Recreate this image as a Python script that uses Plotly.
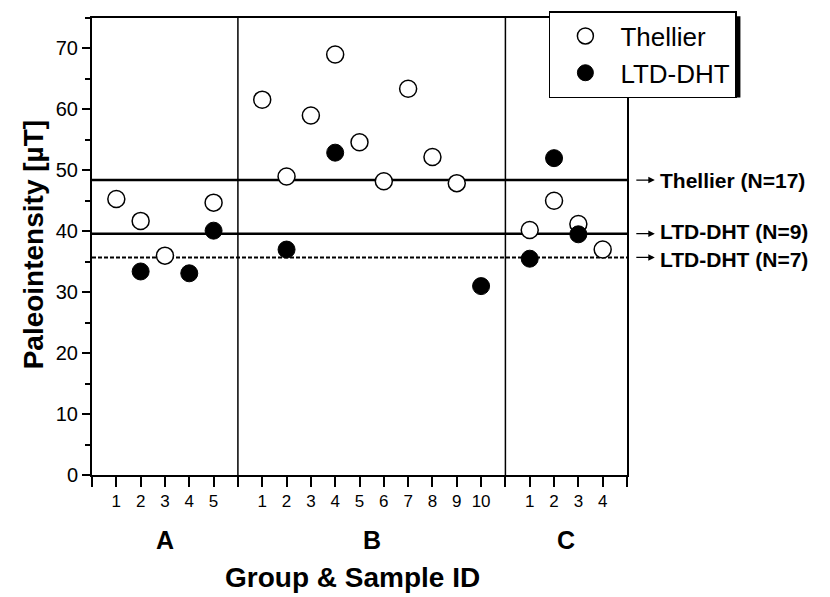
import plotly.graph_objects as go

# Paleointensity estimates per group (sample IDs and values in µT)
groups = ["A", "B", "C"]
group_sizes = [5, 10, 4]

thellier_A_ids = [1, 2, 3, 5]
thellier_A = [45.3, 41.7, 36.0, 44.7]
thellier_B_ids = [1, 2, 3, 4, 5, 6, 7, 8, 9]
thellier_B = [61.6, 49.0, 59.0, 69.0, 54.6, 48.2, 63.4, 52.2, 47.9]
thellier_C_ids = [1, 2, 3, 4]
thellier_C = [40.2, 45.0, 41.2, 37.0]

ltd_A_ids = [2, 4, 5]
ltd_A = [33.4, 33.1, 40.1]
ltd_B_ids = [2, 4, 10]
ltd_B = [37.0, 52.9, 31.0]
ltd_C_ids = [1, 2, 3]
ltd_C = [35.5, 52.0, 39.5]

# Mean levels
mean_labels = ["Thellier (N=17)", "LTD-DHT (N=9)", "LTD-DHT (N=7)"]
mean_values = [48.4, 39.6, 35.7]

FONT = "Liberation Sans, Arial, sans-serif"

# Each group occupies its sample slots, with one empty slot between/after groups
offsets = []
pos = 0
for n in group_sizes:
    offsets.append(pos)
    pos += n + 1
x_max = pos


def place(group_idx, ids):
    return [offsets[group_idx] + i for i in ids]


th_x = place(0, thellier_A_ids) + place(1, thellier_B_ids) + place(2, thellier_C_ids)
th_y = thellier_A + thellier_B + thellier_C
ltd_x = place(0, ltd_A_ids) + place(1, ltd_B_ids) + place(2, ltd_C_ids)
ltd_y = ltd_A + ltd_B + ltd_C

fig = go.Figure()
fig.add_trace(go.Scatter(
    x=th_x, y=th_y, mode="markers", name="Thellier", legendgroup="t",
    marker=dict(symbol="circle", size=17, color="white",
                line=dict(color="black", width=1.5)),
))
fig.add_trace(go.Scatter(
    x=ltd_x, y=ltd_y, mode="markers", name="LTD-DHT", legendgroup="l",
    marker=dict(symbol="circle", size=17, color="black",
                line=dict(color="black", width=1)),
))

line_styles = [dict(width=2.5, dash="solid"), dict(width=2.5, dash="solid"),
               dict(width=2, dash="4px,2px")]
label_shift = [0, 2, -2]

shapes = []
# group separators
for i in range(1, len(groups)):
    shapes.append(dict(type="line", xref="x", yref="y", x0=offsets[i], x1=offsets[i],
                       y0=0, y1=75, line=dict(color="black", width=1.5), layer="below"))
# mean lines
for v, st in zip(mean_values, line_styles):
    shapes.append(dict(type="line", xref="x", yref="y", x0=0, x1=x_max, y0=v, y1=v,
                       line=dict(color="black", **st), layer="below"))

# legend drop shadow
shapes.append(dict(type="rect", xref="paper", yref="paper",
                   x0=0.862, x1=1.212, y0=0.826, y1=1.004,
                   fillcolor="black", line=dict(width=0), layer="above"))

annotations = []
for lab, v, sh in zip(mean_labels, mean_values, label_shift):
    # small pointer arrow followed by the label
    annotations.append(dict(xref="paper", yref="y", x=1.052, y=v, ax=-20, ay=0,
                            text="", showarrow=True, arrowhead=2, arrowsize=1,
                            arrowwidth=1.3, arrowcolor="black"))
    annotations.append(dict(xref="paper", yref="y", x=1.058, y=v, xanchor="left",
                            yanchor="middle", showarrow=False, yshift=sh,
                            text="<b>" + lab + "</b>",
                            font=dict(family=FONT, size=21, color="black")))

centers = [offsets[i] + (group_sizes[i] + 1) / 2 for i in range(len(groups))]
for g, c in zip(groups, centers):
    annotations.append(dict(xref="x", yref="paper", x=c, y=-0.142, xanchor="center",
                            yanchor="middle", showarrow=False, text="<b>" + g + "</b>",
                            font=dict(family=FONT, size=25, color="black")))

annotations.append(dict(xref="paper", yref="paper", x=0.486, y=-0.225, xanchor="center",
                        yanchor="middle", showarrow=False, text="<b>Group & Sample ID</b>",
                        font=dict(family=FONT, size=28, color="black")))
annotations.append(dict(xref="paper", yref="paper", x=-0.11, y=0.505, xanchor="center",
                        yanchor="middle", showarrow=False, textangle=-90,
                        text="<b>Paleointensity [µT]</b>",
                        font=dict(family=FONT, size=28, color="black")))

tickvals = list(range(0, x_max + 1))
ticktext = [""] * len(tickvals)
for gi, n in enumerate(group_sizes):
    for s in range(1, n + 1):
        ticktext[offsets[gi] + s] = str(s)

fig.update_layout(
    width=830, height=597,
    margin=dict(l=92, r=203, t=17, b=122),
    paper_bgcolor="white", plot_bgcolor="white",
    font=dict(family=FONT, color="black"),
    showlegend=True,
    legend=dict(x=0.854, y=1.013, xanchor="left", yanchor="top",
                bgcolor="white", bordercolor="black", borderwidth=1.5,
                font=dict(family=FONT, size=26, color="black"),
                itemwidth=60, tracegroupgap=0),
    shapes=shapes,
    annotations=annotations,
    xaxis=dict(range=[0, x_max], tickmode="array", tickvals=tickvals, ticktext=ticktext,
               ticks="outside", ticklen=10, tickwidth=1.5, tickcolor="black",
               showline=True, linewidth=2, linecolor="black", mirror=True,
               showgrid=False, zeroline=False,
               tickfont=dict(family=FONT, size=17, color="black")),
    yaxis=dict(range=[0, 75], tickmode="linear", tick0=0, dtick=10,
               ticks="outside", ticklen=8, tickwidth=1.5, tickcolor="black",
               minor=dict(dtick=5, ticks="outside", ticklen=5, tickwidth=1.5,
                          tickcolor="black", showgrid=False),
               showline=True, linewidth=2, linecolor="black", mirror=True,
               showgrid=False, zeroline=False,
               tickfont=dict(family=FONT, size=20, color="black")),
)

fig.write_html("out.html")
